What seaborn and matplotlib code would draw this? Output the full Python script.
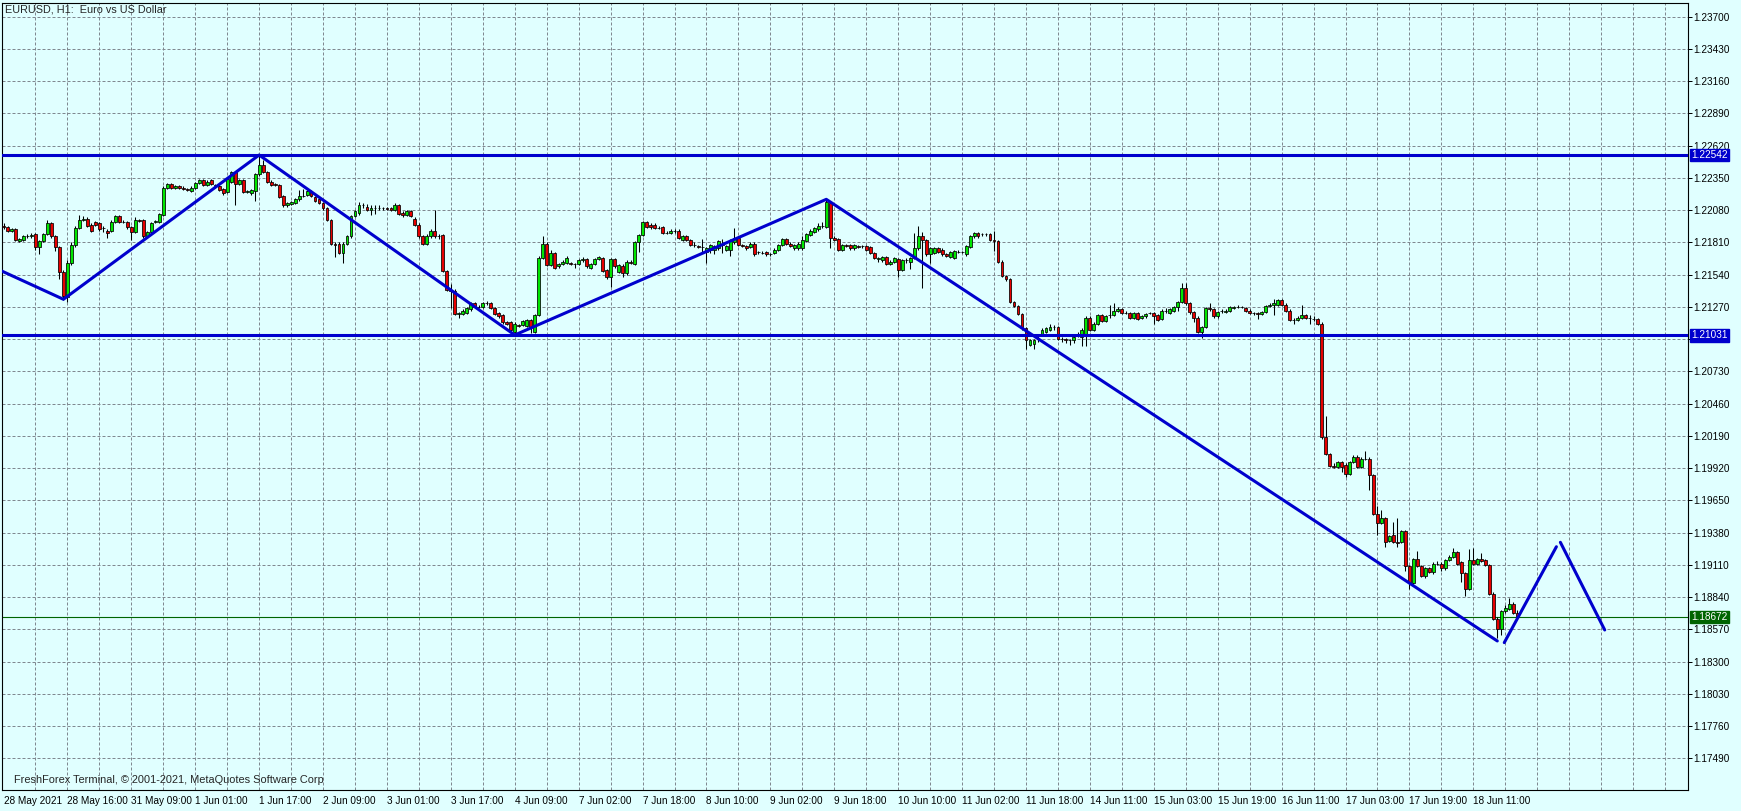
# EURUSD H1 chart with zigzag, MT4 style
import numpy as np
import pandas as pd
import matplotlib
matplotlib.use("Agg")
import matplotlib.pyplot as plt
import seaborn as sns

# --------------------------------------------
# Data (hourly bars, 28 May 00:00 .. 18 Jun 2021)
# --------------------------------------------
opens = [
    1.2195, 1.2194, 1.2191, 1.2192, 1.2182, 1.2183, 1.2186, 1.2186, 1.2188, 1.2177,
    1.2182, 1.2188, 1.2197, 1.2186, 1.2177, 1.2156, 1.2135, 1.2164, 1.2179, 1.2193,
    1.2200, 1.2201, 1.2196, 1.2198, 1.2197, 1.2193, 1.2191, 1.2191, 1.2198, 1.2203,
    1.2198, 1.2198, 1.2194, 1.2190, 1.2200, 1.2200, 1.2186, 1.2190, 1.2198, 1.2198,
    1.2204, 1.2227, 1.2230, 1.2227, 1.2228, 1.2227, 1.2226, 1.2224, 1.2227, 1.2231,
    1.2233, 1.2229, 1.2233, 1.2229, 1.2228, 1.2226, 1.2223, 1.2232, 1.2240, 1.2230,
    1.2233, 1.2223, 1.2222, 1.2224, 1.2238, 1.2246, 1.2240, 1.2232, 1.2230, 1.2229,
    1.2220, 1.2212, 1.2213, 1.2214, 1.2217, 1.2220, 1.2221, 1.2224, 1.2219, 1.2217,
    1.2214, 1.2210, 1.2200, 1.2180, 1.2180, 1.2172, 1.2180, 1.2186, 1.2203, 1.2206,
    1.2212, 1.2211, 1.2208, 1.2210, 1.2210, 1.2210, 1.2210, 1.2210, 1.2208, 1.2212,
    1.2206, 1.2204, 1.2207, 1.2201, 1.2196, 1.2186, 1.2180, 1.2186, 1.2191, 1.2186,
    1.2187, 1.2157, 1.2141, 1.2140, 1.2121, 1.2121, 1.2122, 1.2125, 1.2130, 1.2127,
    1.2127, 1.2130, 1.2130, 1.2126, 1.2122, 1.2120, 1.2114, 1.2114, 1.2106, 1.2112,
    1.2112, 1.2111, 1.2116, 1.2106, 1.2120, 1.2168, 1.2180, 1.2162, 1.2172, 1.2161,
    1.2163, 1.2164, 1.2164, 1.2163, 1.2163, 1.2166, 1.2167, 1.2160, 1.2163, 1.2167,
    1.2168, 1.2158, 1.2152, 1.2167, 1.2156, 1.2161, 1.2155, 1.2165, 1.2163, 1.2181,
    1.2187, 1.2198, 1.2196, 1.2196, 1.2193, 1.2194, 1.2189, 1.2189, 1.2191, 1.2191,
    1.2183, 1.2186, 1.2183, 1.2179, 1.2178, 1.2177, 1.2173, 1.2175, 1.2175, 1.2176,
    1.2180, 1.2175, 1.2175, 1.2181, 1.2185, 1.2179, 1.2178, 1.2177, 1.2180, 1.2173,
    1.2172, 1.2173, 1.2171, 1.2172, 1.2175, 1.2179, 1.2184, 1.2180, 1.2176, 1.2176,
    1.2176, 1.2182, 1.2187, 1.2190, 1.2192, 1.2195, 1.2194, 1.2214, 1.2185, 1.2184,
    1.2175, 1.2179, 1.2179, 1.2176, 1.2178, 1.2178, 1.2178, 1.2177, 1.2172, 1.2167,
    1.2166, 1.2169, 1.2163, 1.2165, 1.2167, 1.2158, 1.2166, 1.2165, 1.2168, 1.2176,
    1.2186, 1.2183, 1.2171, 1.2172, 1.2176, 1.2175, 1.2171, 1.2169, 1.2168, 1.2173,
    1.2173, 1.2171, 1.2177, 1.2186, 1.2189, 1.2188, 1.2188, 1.2188, 1.2183, 1.2182,
    1.2165, 1.2153, 1.2150, 1.2131, 1.2128, 1.2121, 1.2109, 1.2095, 1.2096, 1.2100,
    1.2104, 1.2106, 1.2108, 1.2110, 1.2110, 1.2100, 1.2100, 1.2099, 1.2099, 1.2103,
    1.2102, 1.2104, 1.2118, 1.2108, 1.2113, 1.2120, 1.2115, 1.2120, 1.2120, 1.2124,
    1.2125, 1.2122, 1.2122, 1.2118, 1.2122, 1.2118, 1.2119, 1.2122, 1.2122, 1.2120,
    1.2117, 1.2124, 1.2122, 1.2124, 1.2127, 1.2131, 1.2143, 1.2130, 1.2123, 1.2118,
    1.2106, 1.2110, 1.2126, 1.2125, 1.2119, 1.2124, 1.2123, 1.2124, 1.2126, 1.2127,
    1.2127, 1.2126, 1.2124, 1.2122, 1.2122, 1.2121, 1.2123, 1.2128, 1.2129, 1.2129,
    1.2133, 1.2129, 1.2124, 1.2116, 1.2116, 1.2118, 1.2120, 1.2118, 1.2117, 1.2117,
    1.2113, 1.2018, 1.2004, 1.1994, 1.1993, 1.1997, 1.1995, 1.1987, 1.1997, 1.2001,
    1.1993, 1.2000, 1.2000, 1.1986, 1.1954, 1.1946, 1.1950, 1.1931, 1.1936, 1.1930,
    1.1930, 1.1939, 1.1910, 1.1896, 1.1916, 1.1910, 1.1902, 1.1908, 1.1905, 1.1912,
    1.1912, 1.1908, 1.1915, 1.1918, 1.1922, 1.1913, 1.1904, 1.1891, 1.1915, 1.1912,
    1.1916, 1.1915, 1.1911, 1.1887, 1.1866, 1.1857, 1.1872, 1.1874, 1.1878, 1.1871,
]

highs = [
    1.2197, 1.2195, 1.2193, 1.2193, 1.2185, 1.2187, 1.2188, 1.2189, 1.2189, 1.2183,
    1.2189, 1.2200, 1.2198, 1.2187, 1.2178, 1.2158, 1.2166, 1.2181, 1.2195, 1.2204,
    1.2203, 1.2202, 1.2197, 1.2199, 1.2198, 1.2195, 1.2192, 1.2200, 1.2204, 1.2204,
    1.2200, 1.2199, 1.2195, 1.2202, 1.2201, 1.2201, 1.2191, 1.2198, 1.2200, 1.2206,
    1.2228, 1.2231, 1.2231, 1.2229, 1.2229, 1.2228, 1.2227, 1.2228, 1.2232, 1.2234,
    1.2234, 1.2233, 1.2234, 1.2230, 1.2229, 1.2227, 1.2235, 1.2241, 1.2241, 1.2234,
    1.2234, 1.2225, 1.2226, 1.2239, 1.2254, 1.2250, 1.2241, 1.2233, 1.2231, 1.2230,
    1.2221, 1.2215, 1.2216, 1.2218, 1.2225, 1.2226, 1.2225, 1.2225, 1.2220, 1.2218,
    1.2215, 1.2211, 1.2201, 1.2181, 1.2181, 1.2181, 1.2187, 1.2204, 1.2208, 1.2215,
    1.2214, 1.2213, 1.2212, 1.2212, 1.2212, 1.2211, 1.2211, 1.2211, 1.2214, 1.2213,
    1.2207, 1.2208, 1.2208, 1.2202, 1.2197, 1.2187, 1.2188, 1.2192, 1.2208, 1.2188,
    1.2188, 1.2158, 1.2146, 1.2142, 1.2123, 1.2125, 1.2127, 1.2131, 1.2131, 1.2129,
    1.2131, 1.2132, 1.2131, 1.2127, 1.2123, 1.2121, 1.2115, 1.2115, 1.2114, 1.2113,
    1.2116, 1.2117, 1.2117, 1.2121, 1.2170, 1.2186, 1.2181, 1.2175, 1.2173, 1.2164,
    1.2166, 1.2170, 1.2165, 1.2164, 1.2167, 1.2169, 1.2168, 1.2164, 1.2168, 1.2170,
    1.2169, 1.2159, 1.2168, 1.2168, 1.2163, 1.2163, 1.2166, 1.2166, 1.2182, 1.2188,
    1.2199, 1.2199, 1.2197, 1.2197, 1.2195, 1.2195, 1.2191, 1.2192, 1.2192, 1.2192,
    1.2187, 1.2187, 1.2184, 1.2181, 1.2179, 1.2184, 1.2177, 1.2180, 1.2179, 1.2183,
    1.2184, 1.2179, 1.2184, 1.2193, 1.2186, 1.2180, 1.2179, 1.2181, 1.2181, 1.2174,
    1.2174, 1.2174, 1.2172, 1.2176, 1.2180, 1.2185, 1.2185, 1.2181, 1.2180, 1.2181,
    1.2186, 1.2189, 1.2192, 1.2194, 1.2197, 1.2198, 1.2218, 1.2216, 1.2186, 1.2185,
    1.2180, 1.2180, 1.2180, 1.2180, 1.2179, 1.2179, 1.2179, 1.2178, 1.2173, 1.2169,
    1.2170, 1.2170, 1.2166, 1.2169, 1.2168, 1.2167, 1.2168, 1.2169, 1.2189, 1.2195,
    1.2190, 1.2184, 1.2177, 1.2177, 1.2177, 1.2176, 1.2172, 1.2174, 1.2175, 1.2175,
    1.2174, 1.2179, 1.2187, 1.2190, 1.2190, 1.2189, 1.2189, 1.2189, 1.2191, 1.2183,
    1.2166, 1.2154, 1.2151, 1.2132, 1.2129, 1.2122, 1.2110, 1.2100, 1.2100, 1.2103,
    1.2109, 1.2110, 1.2113, 1.2112, 1.2111, 1.2102, 1.2101, 1.2100, 1.2103, 1.2106,
    1.2109, 1.2119, 1.2119, 1.2114, 1.2121, 1.2121, 1.2120, 1.2129, 1.2130, 1.2127,
    1.2126, 1.2124, 1.2123, 1.2123, 1.2123, 1.2120, 1.2122, 1.2123, 1.2123, 1.2121,
    1.2125, 1.2126, 1.2126, 1.2128, 1.2132, 1.2147, 1.2147, 1.2131, 1.2124, 1.2119,
    1.2111, 1.2127, 1.2130, 1.2126, 1.2124, 1.2125, 1.2125, 1.2128, 1.2128, 1.2129,
    1.2128, 1.2127, 1.2125, 1.2123, 1.2123, 1.2124, 1.2129, 1.2130, 1.2134, 1.2134,
    1.2134, 1.2130, 1.2125, 1.2118, 1.2119, 1.2129, 1.2121, 1.2120, 1.2119, 1.2118,
    1.2114, 1.2036, 1.2005, 1.1996, 1.1998, 1.1998, 1.1996, 1.1998, 1.2003, 1.2003,
    1.2001, 1.2006, 1.2001, 1.1987, 1.1960, 1.1957, 1.1951, 1.1936, 1.1947, 1.1950,
    1.1940, 1.1940, 1.1911, 1.1917, 1.1923, 1.1911, 1.1909, 1.1909, 1.1913, 1.1914,
    1.1913, 1.1916, 1.1919, 1.1925, 1.1923, 1.1914, 1.1905, 1.1924, 1.1925, 1.1917,
    1.1921, 1.1916, 1.1912, 1.1888, 1.1867, 1.1873, 1.1877, 1.1883, 1.1880, 1.1873,
]

lows = [
    1.2192, 1.2190, 1.2190, 1.2182, 1.2181, 1.2182, 1.2185, 1.2185, 1.2175, 1.2171,
    1.2181, 1.2187, 1.2185, 1.2174, 1.2150, 1.2133, 1.2131, 1.2162, 1.2177, 1.2192,
    1.2199, 1.2194, 1.2190, 1.2195, 1.2191, 1.2190, 1.2185, 1.2190, 1.2197, 1.2197,
    1.2197, 1.2192, 1.2183, 1.2189, 1.2198, 1.2185, 1.2185, 1.2189, 1.2197, 1.2197,
    1.2203, 1.2226, 1.2226, 1.2226, 1.2226, 1.2225, 1.2224, 1.2223, 1.2226, 1.2230,
    1.2228, 1.2228, 1.2229, 1.2227, 1.2224, 1.2221, 1.2222, 1.2231, 1.2212, 1.2229,
    1.2222, 1.2222, 1.2221, 1.2216, 1.2237, 1.2239, 1.2231, 1.2228, 1.2228, 1.2218,
    1.2211, 1.2211, 1.2212, 1.2213, 1.2216, 1.2219, 1.2220, 1.2219, 1.2215, 1.2213,
    1.2208, 1.2199, 1.2179, 1.2169, 1.2171, 1.2164, 1.2179, 1.2185, 1.2202, 1.2204,
    1.2210, 1.2207, 1.2204, 1.2205, 1.2208, 1.2208, 1.2208, 1.2207, 1.2207, 1.2204,
    1.2202, 1.2203, 1.2202, 1.2195, 1.2185, 1.2179, 1.2179, 1.2185, 1.2185, 1.2184,
    1.2156, 1.2140, 1.2126, 1.2120, 1.2118, 1.2120, 1.2121, 1.2124, 1.2126, 1.2126,
    1.2126, 1.2129, 1.2125, 1.2120, 1.2118, 1.2113, 1.2112, 1.2107, 1.2104, 1.2110,
    1.2111, 1.2110, 1.2105, 1.2105, 1.2119, 1.2167, 1.2161, 1.2161, 1.2159, 1.2160,
    1.2162, 1.2163, 1.2162, 1.2160, 1.2162, 1.2165, 1.2160, 1.2159, 1.2162, 1.2166,
    1.2156, 1.2150, 1.2144, 1.2160, 1.2155, 1.2152, 1.2154, 1.2163, 1.2162, 1.2173,
    1.2186, 1.2193, 1.2192, 1.2192, 1.2192, 1.2188, 1.2188, 1.2188, 1.2189, 1.2184,
    1.2182, 1.2182, 1.2178, 1.2177, 1.2176, 1.2172, 1.2164, 1.2172, 1.2171, 1.2175,
    1.2172, 1.2174, 1.2170, 1.2180, 1.2178, 1.2177, 1.2175, 1.2176, 1.2170, 1.2171,
    1.2171, 1.2170, 1.2170, 1.2171, 1.2174, 1.2178, 1.2179, 1.2177, 1.2175, 1.2175,
    1.2175, 1.2181, 1.2186, 1.2189, 1.2191, 1.2193, 1.2193, 1.2176, 1.2182, 1.2174,
    1.2174, 1.2177, 1.2175, 1.2175, 1.2176, 1.2176, 1.2174, 1.2171, 1.2167, 1.2165,
    1.2165, 1.2162, 1.2162, 1.2164, 1.2152, 1.2157, 1.2164, 1.2159, 1.2167, 1.2175,
    1.2143, 1.2170, 1.2164, 1.2171, 1.2172, 1.2170, 1.2169, 1.2168, 1.2167, 1.2172,
    1.2172, 1.2170, 1.2176, 1.2185, 1.2185, 1.2186, 1.2186, 1.2182, 1.2174, 1.2164,
    1.2152, 1.2149, 1.2130, 1.2127, 1.2120, 1.2108, 1.2092, 1.2094, 1.2092, 1.2098,
    1.2103, 1.2105, 1.2107, 1.2108, 1.2099, 1.2098, 1.2097, 1.2095, 1.2097, 1.2102,
    1.2094, 1.2094, 1.2107, 1.2107, 1.2112, 1.2114, 1.2114, 1.2118, 1.2119, 1.2123,
    1.2121, 1.2121, 1.2117, 1.2117, 1.2116, 1.2117, 1.2118, 1.2121, 1.2113, 1.2115,
    1.2116, 1.2122, 1.2121, 1.2123, 1.2124, 1.2130, 1.2129, 1.2121, 1.2114, 1.2105,
    1.2101, 1.2109, 1.2124, 1.2118, 1.2118, 1.2122, 1.2122, 1.2123, 1.2125, 1.2126,
    1.2126, 1.2123, 1.2121, 1.2120, 1.2117, 1.2120, 1.2122, 1.2127, 1.2120, 1.2128,
    1.2128, 1.2123, 1.2115, 1.2113, 1.2115, 1.2117, 1.2117, 1.2113, 1.2115, 1.2112,
    1.2016, 1.2003, 1.1993, 1.1992, 1.1992, 1.1989, 1.1985, 1.1986, 1.1996, 1.1992,
    1.1992, 1.1999, 1.1974, 1.1953, 1.1936, 1.1945, 1.1926, 1.1930, 1.1929, 1.1926,
    1.1929, 1.1906, 1.1891, 1.1895, 1.1909, 1.1901, 1.1900, 1.1904, 1.1903, 1.1911,
    1.1906, 1.1907, 1.1914, 1.1917, 1.1911, 1.1897, 1.1885, 1.1890, 1.1911, 1.1911,
    1.1913, 1.1910, 1.1886, 1.1865, 1.1850, 1.1852, 1.1871, 1.1873, 1.1870, 1.1866,
]

closes = [
    1.2194, 1.2191, 1.2192, 1.2183, 1.2184, 1.2186, 1.2186, 1.2187, 1.2177, 1.2182,
    1.2188, 1.2197, 1.2186, 1.2177, 1.2156, 1.2136, 1.2164, 1.2179, 1.2193, 1.2200,
    1.2201, 1.2195, 1.2191, 1.2196, 1.2192, 1.2193, 1.2189, 1.2198, 1.2203, 1.2198,
    1.2198, 1.2194, 1.2190, 1.2200, 1.2199, 1.2186, 1.2190, 1.2197, 1.2199, 1.2205,
    1.2227, 1.2230, 1.2227, 1.2228, 1.2227, 1.2226, 1.2225, 1.2227, 1.2231, 1.2233,
    1.2229, 1.2232, 1.2230, 1.2228, 1.2225, 1.2222, 1.2234, 1.2240, 1.2230, 1.2233,
    1.2223, 1.2224, 1.2225, 1.2238, 1.2246, 1.2240, 1.2232, 1.2229, 1.2229, 1.2219,
    1.2212, 1.2214, 1.2215, 1.2217, 1.2220, 1.2220, 1.2224, 1.2220, 1.2216, 1.2214,
    1.2210, 1.2200, 1.2180, 1.2179, 1.2172, 1.2180, 1.2186, 1.2203, 1.2207, 1.2212,
    1.2212, 1.2208, 1.2210, 1.2210, 1.2210, 1.2210, 1.2209, 1.2208, 1.2212, 1.2205,
    1.2204, 1.2207, 1.2203, 1.2196, 1.2186, 1.2180, 1.2186, 1.2191, 1.2186, 1.2186,
    1.2157, 1.2141, 1.2140, 1.2121, 1.2122, 1.2124, 1.2126, 1.2130, 1.2127, 1.2127,
    1.2130, 1.2130, 1.2126, 1.2121, 1.2119, 1.2114, 1.2113, 1.2108, 1.2113, 1.2111,
    1.2115, 1.2116, 1.2110, 1.2120, 1.2168, 1.2180, 1.2162, 1.2172, 1.2160, 1.2163,
    1.2165, 1.2168, 1.2163, 1.2163, 1.2166, 1.2167, 1.2161, 1.2163, 1.2167, 1.2169,
    1.2157, 1.2152, 1.2167, 1.2161, 1.2162, 1.2155, 1.2165, 1.2164, 1.2181, 1.2187,
    1.2198, 1.2194, 1.2194, 1.2193, 1.2193, 1.2189, 1.2189, 1.2191, 1.2191, 1.2185,
    1.2186, 1.2183, 1.2179, 1.2179, 1.2177, 1.2177, 1.2176, 1.2179, 1.2178, 1.2182,
    1.2179, 1.2178, 1.2183, 1.2185, 1.2179, 1.2178, 1.2176, 1.2180, 1.2171, 1.2173,
    1.2172, 1.2171, 1.2171, 1.2175, 1.2179, 1.2184, 1.2180, 1.2178, 1.2179, 1.2180,
    1.2183, 1.2188, 1.2191, 1.2193, 1.2195, 1.2195, 1.2215, 1.2185, 1.2183, 1.2175,
    1.2179, 1.2178, 1.2176, 1.2179, 1.2177, 1.2178, 1.2175, 1.2172, 1.2168, 1.2168,
    1.2169, 1.2163, 1.2165, 1.2168, 1.2158, 1.2166, 1.2166, 1.2168, 1.2176, 1.2186,
    1.2183, 1.2171, 1.2176, 1.2176, 1.2173, 1.2171, 1.2170, 1.2173, 1.2174, 1.2173,
    1.2173, 1.2178, 1.2186, 1.2189, 1.2186, 1.2188, 1.2188, 1.2183, 1.2182, 1.2165,
    1.2153, 1.2150, 1.2131, 1.2128, 1.2121, 1.2109, 1.2099, 1.2099, 1.2099, 1.2101,
    1.2108, 1.2109, 1.2110, 1.2110, 1.2100, 1.2100, 1.2099, 1.2099, 1.2102, 1.2104,
    1.2108, 1.2118, 1.2108, 1.2113, 1.2120, 1.2115, 1.2119, 1.2120, 1.2124, 1.2125,
    1.2122, 1.2122, 1.2118, 1.2122, 1.2117, 1.2119, 1.2121, 1.2122, 1.2119, 1.2116,
    1.2124, 1.2124, 1.2125, 1.2127, 1.2131, 1.2143, 1.2130, 1.2123, 1.2118, 1.2106,
    1.2110, 1.2126, 1.2125, 1.2119, 1.2123, 1.2124, 1.2124, 1.2127, 1.2127, 1.2127,
    1.2127, 1.2124, 1.2122, 1.2122, 1.2121, 1.2123, 1.2128, 1.2129, 1.2130, 1.2133,
    1.2129, 1.2124, 1.2116, 1.2116, 1.2118, 1.2120, 1.2118, 1.2118, 1.2117, 1.2113,
    1.2018, 1.2004, 1.1994, 1.1993, 1.1997, 1.1993, 1.1987, 1.1997, 1.2001, 1.1993,
    1.2000, 1.2000, 1.1986, 1.1954, 1.1946, 1.1950, 1.1930, 1.1935, 1.1930, 1.1929,
    1.1939, 1.1910, 1.1896, 1.1916, 1.1910, 1.1902, 1.1908, 1.1905, 1.1912, 1.1912,
    1.1908, 1.1915, 1.1918, 1.1922, 1.1912, 1.1904, 1.1891, 1.1915, 1.1912, 1.1916,
    1.1914, 1.1911, 1.1887, 1.1866, 1.1857, 1.1872, 1.1875, 1.1878, 1.1871, 1.18672,
]

# zigzag pivots (bar index, price) and the projected leg
zz_bars = [-0.4, 15, 64, 128, 206, 374]
zz_prices = [1.21570, 1.21334, 1.22542, 1.21035, 1.22171, 1.18473]
proj_up_bars = [375.75, 388.8]
proj_up_prices = [1.18459, 1.19262]
proj_down_bars = [389.8, 400.9]
proj_down_prices = [1.19299, 1.18565]

levels = [1.22542, 1.21031]
current_price = 1.18672

price_ticks = [1.17490, 1.17760, 1.18030, 1.18300, 1.18570, 1.18840, 1.19110,
               1.19380, 1.19650, 1.19920, 1.20190, 1.20460, 1.20730, 1.21000,
               1.21270, 1.21540, 1.21810, 1.22080, 1.22350, 1.22620, 1.22890,
               1.23160, 1.23430, 1.23700]

x_labels = ["28 May 2021", "28 May 16:00", "31 May 09:00", "1 Jun 01:00",
            "1 Jun 17:00", "2 Jun 09:00", "3 Jun 01:00", "3 Jun 17:00",
            "4 Jun 09:00", "7 Jun 02:00", "7 Jun 18:00", "8 Jun 10:00",
            "9 Jun 02:00", "9 Jun 18:00", "10 Jun 10:00", "11 Jun 02:00",
            "11 Jun 18:00", "14 Jun 11:00", "15 Jun 03:00", "15 Jun 19:00",
            "16 Jun 11:00", "17 Jun 03:00", "17 Jun 19:00", "18 Jun 11:00"]

assert len(opens) == len(highs) == len(lows) == len(closes)

# --------------------------------------------
# Style
# --------------------------------------------
BG = "#E0FFFF"
GRID = "#808890"
BLUE = "#0000CD"
GREEN_LINE = "#006400"
BULL = "#00E600"
BEAR = "#E60000"

sns.set_style("white")
plt.rcParams["font.family"] = ["Liberation Sans", "DejaVu Sans"]

df = pd.DataFrame({"open": opens, "high": highs, "low": lows, "close": closes})
df["bar"] = np.arange(len(df))
df["up"] = df["close"] >= df["open"]

W, H = 1741, 811
fig = plt.figure(figsize=(W / 100, H / 100), dpi=100, facecolor=BG)
ax = fig.add_axes([2 / W, 21 / H, 1686 / W, 787 / H])
ax.set_facecolor(BG)

# grid
for p in price_ticks:
    ax.axhline(p, color=GRID, lw=0.72, ls=(0, (3, 2)), zorder=0)
for b in range(8, 422, 8):
    ax.axvline(b, color=GRID, lw=0.72, ls=(0, (3, 2)), zorder=0)

# current price line
ax.axhline(current_price, color=GREEN_LINE, lw=0.8, zorder=1)

# candles
ax.vlines(df["bar"], df["low"], df["high"], color="black", lw=0.75, zorder=2)
body_low = np.minimum(df["open"], df["close"])
body_h = (df["close"] - df["open"]).abs()
ax.bar(df["bar"], body_h, bottom=body_low, width=0.72,
       color=np.where(df["up"], BULL, BEAR), edgecolor="black", linewidth=0.55, zorder=3)

# levels and zigzag
for lv in levels:
    ax.axhline(lv, color=BLUE, lw=2.2, zorder=4)
sns.lineplot(x=zz_bars, y=zz_prices, sort=False, estimator=None, color=BLUE, lw=2.2, ax=ax, zorder=5)
sns.lineplot(x=proj_up_bars, y=proj_up_prices, sort=False, estimator=None, color=BLUE, lw=2.2, ax=ax, zorder=5)
sns.lineplot(x=proj_down_bars, y=proj_down_prices, sort=False, estimator=None, color=BLUE, lw=2.2, ax=ax, zorder=5)

# axes
ax.set_xlim(-0.38, 421.75)
ax.set_ylim(1.17225, 1.23815)
ax.set_xlabel("")
ax.set_ylabel("")

ax.set_xticks(np.arange(len(x_labels)) * 16)
ax.set_xticklabels(x_labels)
for lab in ax.get_xticklabels():
    lab.set_horizontalalignment("left")

ax.yaxis.tick_right()
ax.set_yticks(price_ticks)
ax.set_yticklabels([f"{p:.5f}" for p in price_ticks])

ax.tick_params(axis="both", direction="out", length=2.9, width=0.72, color="black",
               labelcolor="black", pad=1.2)
ax.tick_params(axis="x", labelsize=7.2)
ax.tick_params(axis="y", labelsize=7.2)
for s in ax.spines.values():
    s.set_color("black")
    s.set_linewidth(0.8)
    s.set_visible(True)

# price tags on the right scale
for lv, col in [(levels[0], BLUE), (levels[1], BLUE), (current_price, GREEN_LINE)]:
    ax.annotate(f"{lv:.5f}", xy=(1, lv), xycoords=("axes fraction", "data"),
                xytext=(2.6, 0), textcoords="offset points", ha="left", va="center",
                fontsize=7.2, color="white", annotation_clip=False, zorder=10,
                bbox=dict(boxstyle="square,pad=0.12", fc=col, ec=col))

# texts
fig.text(5 / W, 1 - 9 / H, "EURUSD, H1:  Euro vs US Dollar", fontsize=7.8, va="center", ha="left")
fig.text(14 / W, 1 - 780 / H, "FreshForex Terminal, \u00a9 2001-2021, MetaQuotes Software Corp",
         fontsize=7.9, va="center", ha="left")

fig.savefig("out.png", dpi=100, facecolor=fig.get_facecolor())
